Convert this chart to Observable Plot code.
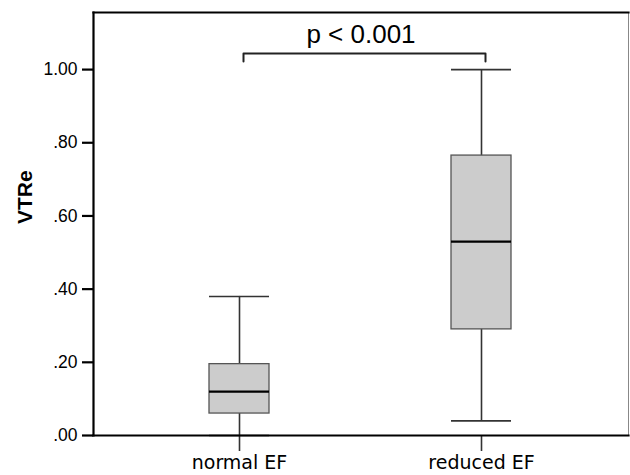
<!DOCTYPE html>
<html>
<head>
<meta charset="utf-8">
<script src="https://cdn.jsdelivr.net/npm/d3@7"></script>
<script src="https://cdn.jsdelivr.net/npm/@observablehq/plot@0.6"></script>
<style>
  html, body { margin: 0; padding: 0; background: #fff; }
  #chart svg { display: block; }
</style>
</head>
<body>
<div id="chart"></div>
<script>
const categories = ["normal EF", "reduced EF"];
const whiskerLow = [0.00, 0.04];
const q1 = [0.06, 0.29];
const median = [0.12, 0.53];
const q3 = [0.195, 0.765];
const whiskerHigh = [0.38, 1.00];
const yTicks = [0, 0.2, 0.4, 0.6, 0.8, 1.0];
const yTickLabels = [".00", ".20", ".40", ".60", ".80", "1.00"];
const yLabel = "VTRe";
const pLabel = "p < 0.001";
const bracketLow = 1.022;
const bracketHigh = 1.044;
const pLabelY = 1.096;

const boxes = categories.map((c, i) => ({
  cat: c, lo: whiskerLow[i], q1: q1[i], med: median[i], q3: q3[i], hi: whiskerHigh[i]
}));
const bracket = [
  {cat: categories[0], v: bracketLow},
  {cat: categories[0], v: bracketHigh},
  {cat: categories[1], v: bracketHigh},
  {cat: categories[1], v: bracketLow}
];

const chart = Plot.plot({
  width: 630,
  height: 475,
  marginLeft: 93,
  marginRight: 2,
  marginTop: 12,
  marginBottom: 40,
  style: {background: "#fff", fontFamily: "'Liberation Sans', Arial, sans-serif", color: "#000", overflow: "visible"},
  x: {domain: categories, paddingInner: 0.752, paddingOuter: 0.481},
  y: {domain: [0, 1.156]},
  marks: [
    Plot.ruleX(boxes, {x: "cat", y1: "lo", y2: "hi", stroke: "#333", strokeWidth: 1.6}),
    Plot.barY(boxes, {x: "cat", y1: "q1", y2: "q3", fill: "#cccccc", stroke: "#555", strokeWidth: 1.3}),
    Plot.tickY(boxes, {x: "cat", y: "med", stroke: "#000", strokeWidth: 2.2}),
    Plot.tickY(boxes, {x: "cat", y: "hi", stroke: "#333", strokeWidth: 1.6}),
    Plot.tickY(boxes, {x: "cat", y: "lo", stroke: "#333", strokeWidth: 1.6}),
    Plot.line(bracket, {x: "cat", y: "v", stroke: "#222", strokeWidth: 2, dx: 4}),
    Plot.text([pLabel], {y: [pLabelY], text: d => d, fontSize: 26, fill: "#000", lineAnchor: "middle"}),
    Plot.axisY({ticks: yTicks, tickFormat: d => yTickLabels[yTicks.indexOf(d)], tickSize: 11, tickPadding: 5, fontSize: 17.5, stroke: "#000", strokeWidth: 2.2, label: null}),
    Plot.axisX({tickSize: 16, tickPadding: 4, fontSize: 19, fontFamily: "DejaVu Sans", stroke: "#333", strokeWidth: 1.6, label: null}),
    Plot.text([yLabel], {frameAnchor: "left", text: d => d, dx: -68, rotate: -90, fontSize: 21, fontWeight: "bold", fill: "#000"}),
    Plot.frame({anchor: "right", stroke: "#888", strokeWidth: 1}),
    Plot.frame({anchor: "top", stroke: "#000", strokeWidth: 2.2}),
    Plot.frame({anchor: "left", stroke: "#000", strokeWidth: 2.2}),
    Plot.frame({anchor: "bottom", stroke: "#000", strokeWidth: 2.2})
  ]
});
document.getElementById("chart").appendChild(chart);
</script>
</body>
</html>
